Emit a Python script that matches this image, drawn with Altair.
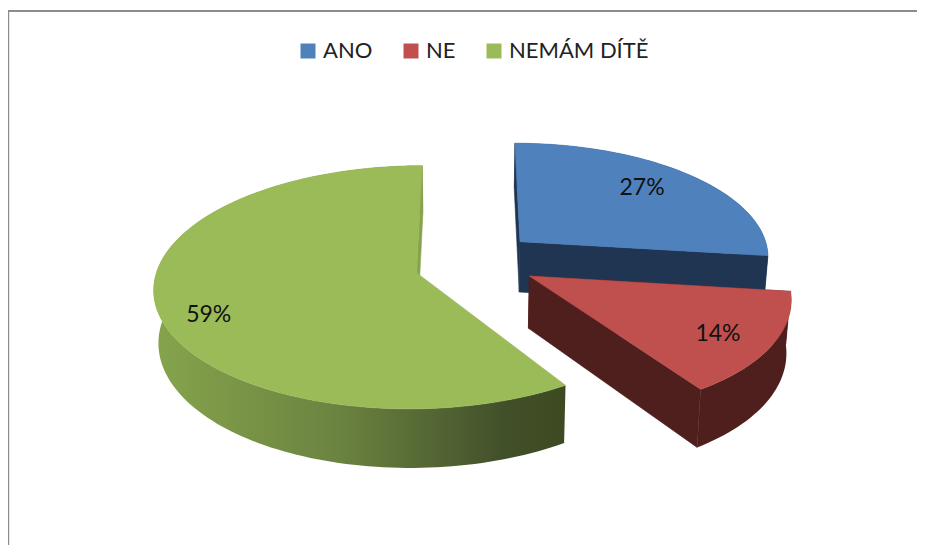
import math
import altair as alt
import pandas as pd

labels = ["ANO", "NE", "NEMÁM DÍTĚ"]
values = [27, 14, 59]
percent_text = ["27%", "14%", "59%"]

top_colors = ["#4f81bd", "#c0504d", "#9bbb59"]
wall_colors = ["#1f3552", "#4f1f1e", "#5f7637"]
face_colors = ["#1f3552", "#4f1f1e", "#88a34f"]

# layout of the tilted, exploded disc (pixel space of the page)
VX, Y0 = 470.0, 272.7
F, G, K = 262.7, 119.8, 0.12
DEPTH, SHRINK = 52.0, 0.985
apex_screen = [(520.0, 241.7), (529.3, 276.0), (416.5, 272.7)]
radius_scale = [0.965, 0.975, 0.99]
depth_scale = [0.975, 1.0, 1.0]
shear = [0.0, 12.0, 0.0]
label_r = [0.70, 0.80, 0.80]
label_shift = [(2, -5), (-3, 3), (-1, 15)]

def z_of(ay):
    d = Y0 - ay
    return d / (G - d * K)

centres = []
for ax, ay in apex_screen:
    z = z_of(ay)
    centres.append(((ax - VX) * (1 + K * z), z))

def top_pt(i, t, r=1.0):
    fx, z0 = centres[i]
    a = math.radians(t)
    dz = r * math.cos(a) * depth_scale[i]
    X = fx + F * radius_scale[i] * r * math.sin(a) - shear[i] * dz
    Z = z0 + dz
    w = 1 + K * Z
    return VX + X / w, Y0 - G * Z / w, w

def bot_pt(i, t, r=1.0):
    x, y, w = top_pt(i, t, r)
    return VX + (x - VX) * SHRINK, y + DEPTH / w

spans = []
acc = 0.0
total = sum(values)
for v in values:
    spans.append((acc, acc + 360.0 * v / total))
    acc += 360.0 * v / total

def arc(t1, t2):
    n = max(2, int(abs(t2 - t1) / 1.5))
    return [t1 + (t2 - t1) * k / n for k in range(n + 1)]

def poly(points):
    return pd.DataFrame({"i": range(len(points)),
                         "x": [p[0] for p in points],
                         "y": [p[1] for p in points]})

xs = alt.Scale(domain=[8, 917], nice=False, zero=False)
ys = alt.Scale(domain=[545, 8], nice=False, zero=False)
X_ = alt.X("x:Q", scale=xs, axis=None)
Y_ = alt.Y("y:Q", scale=ys, axis=None)

def shape(points, fill, stroke=None):
    return alt.Chart(poly(points)).mark_line(
        fill=fill, stroke=stroke if stroke else fill, strokeWidth=0.6,
        interpolate="linear-closed"
    ).encode(x=X_, y=Y_, order=alt.Order("i:Q"))

green_wall = alt.LinearGradient(
    gradient="linear", x1=0, x2=1, y1=0, y2=0,
    stops=[alt.GradientStop(offset=0, color="#86a44c"),
           alt.GradientStop(offset=0.45, color="#6b8340"),
           alt.GradientStop(offset=0.85, color="#42502a"),
           alt.GradientStop(offset=1, color="#3d4a21")],
)

layers = []
for i in range(3):
    t1, t2 = spans[i]
    ax, ay = top_pt(i, 0, 0)[:2]
    abx, aby = bot_pt(i, 0, 0)
    wall_fill = green_wall if i == 2 else wall_colors[i]
    # outer rim wall
    ang = arc(t1, t2)
    pts = [top_pt(i, t)[:2] for t in ang] + [bot_pt(i, t) for t in reversed(ang)]
    layers.append(alt.Chart(poly(pts)).mark_line(
        fill=wall_fill, strokeOpacity=0, interpolate="linear-closed"
    ).encode(x=X_, y=Y_, order=alt.Order("i:Q")))
    # radial cut faces
    for t, col in ((t1, wall_colors[i]), (t2, face_colors[i])):
        if i == 2 and t == t1:
            continue
        pts = [(ax, ay), top_pt(i, t)[:2], bot_pt(i, t), (abx, aby)]
        layers.append(shape(pts, col))
    # top face
    pts = [(ax, ay)] + [top_pt(i, t)[:2] for t in ang]
    layers.append(shape(pts, top_colors[i]))

# percentage labels
lab_rows = []
for i in range(3):
    mid = sum(spans[i]) / 2
    x, y, _ = top_pt(i, mid, label_r[i])
    lab_rows.append({"x": x + label_shift[i][0], "y": y + label_shift[i][1], "t": percent_text[i]})
text = alt.Chart(pd.DataFrame(lab_rows)).mark_text(
    font="Lato", fontSize=23, color="#111111", align="center", baseline="middle"
).encode(x=X_, y=Y_, text="t:N")

# legend carrier
legend_labels = ["ANO", "\u00a0\u00a0\u00a0NE", "NEMÁM DÍTĚ"]
leg_df = pd.DataFrame({"x": [100, 100, 100], "y": [100, 100, 100], "name": legend_labels})
carrier = alt.Chart(leg_df).mark_square(size=0, opacity=1).encode(
    x=X_, y=Y_,
    color=alt.Color(
        "name:N",
        scale=alt.Scale(domain=legend_labels, range=top_colors),
        legend=alt.Legend(
            title=None, orient="none", legendX=289, legendY=32, direction="horizontal",
            symbolType="square", symbolSize=225, symbolStrokeWidth=0,
            labelFont="Lato", labelFontSize=22, labelColor="#222222", labelOffset=4,
            columnPadding=27, gridAlign="none", labelLimit=300, padding=0,
        ),
    ),
)

# frame of the chart area
frame_top = alt.Chart(pd.DataFrame({"a": [0]})).mark_rule(color="#8c8c8c", strokeWidth=2).encode(
    x=alt.value(0), x2=alt.value(909), y=alt.value(3))
frame_left = alt.Chart(pd.DataFrame({"a": [0]})).mark_rule(color="#8c8c8c", strokeWidth=2).encode(
    y=alt.value(3), y2=alt.value(537), x=alt.value(0.2))

chart = alt.layer(frame_top, frame_left, *layers, text, carrier).properties(
    width=909, height=537, padding=0,
    autosize=alt.AutoSizeParams(type="none"),
    background="white",
).configure_view(stroke=None)

chart.save("out.html", embed_options={"renderer": "svg", "actions": False})
